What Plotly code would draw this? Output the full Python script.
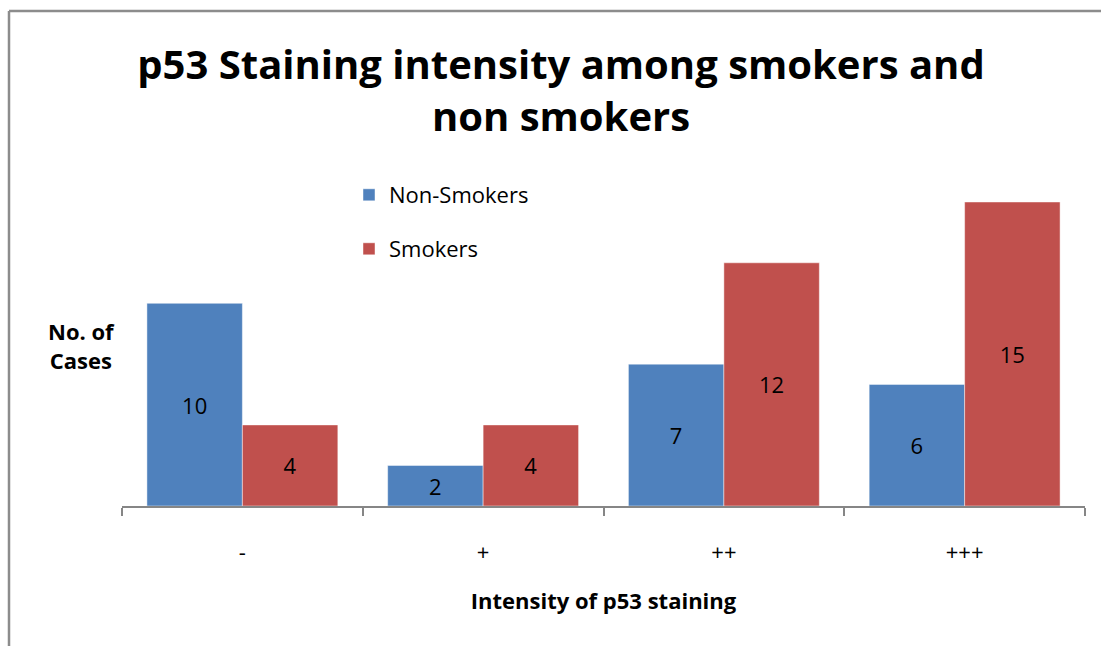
import plotly.graph_objects as go

# Staining intensity categories and case counts per group
categories = ["-", "+", "++", "+++"]
non_smokers = [10, 2, 7, 6]
smokers = [4, 4, 12, 15]

BLUE = "#4F81BD"
RED = "#C0504D"
FONT = "Open Sans"

W, H = 1101, 646
L, R, T, B = 122, 16, 202, 140


def px_x(x):
    return (x - L) / (W - L - R)


def px_y(y):
    return (H - B - y) / (H - T - B)


fig = go.Figure()
fig.add_trace(go.Bar(
    x=categories, y=non_smokers, name="Non-Smokers",
    marker=dict(color=BLUE, line=dict(color="rgba(255,255,255,0.45)", width=1)),
    text=non_smokers, textposition="inside", insidetextanchor="middle",
    textfont=dict(family=FONT, size=22, color="black"),
    legend="legend",
))
fig.add_trace(go.Bar(
    x=categories, y=smokers, name="Smokers",
    marker=dict(color=RED, line=dict(color="rgba(255,255,255,0.45)", width=1)),
    text=smokers, textposition="inside", insidetextanchor="middle",
    textfont=dict(family=FONT, size=22, color="black"),
    legend="legend2",
))

fig.update_layout(
    width=W, height=H,
    margin=dict(l=L, r=R, t=T, b=B),
    paper_bgcolor="white", plot_bgcolor="white",
    barmode="group", bargap=0.207, bargroupgap=0,
    font=dict(family=FONT, color="black"),
    title=dict(
        text="<b>p53 Staining intensity among smokers and<br>non smokers</b>",
        x=561 / W, xanchor="center", xref="container",
        y=1 - 79 / H, yanchor="middle",
        font=dict(family=FONT, size=40, color="black"),
    ),
    legend=dict(
        x=px_x(349), y=px_y(195), xanchor="left", yanchor="middle",
        font=dict(family=FONT, size=22, color="black"),
        bgcolor="rgba(0,0,0,0)",
    ),
    legend2=dict(
        x=px_x(349), y=px_y(249), xanchor="left", yanchor="middle",
        font=dict(family=FONT, size=22, color="black"),
        bgcolor="rgba(0,0,0,0)",
    ),
    showlegend=True,
)

fig.update_xaxes(
    type="category", range=[-0.5, 3.5],
    showline=True, linecolor="#868686", linewidth=2,
    ticks="outside", tickson="boundaries", ticklen=8, tickcolor="#868686", tickwidth=2,
    tickfont=dict(family=FONT, size=22, color="black"),
    ticklabelstandoff=26,
    showgrid=False, zeroline=False,
    title=dict(text="<b>Intensity of p53 staining</b>", font=dict(family=FONT, size=22), standoff=28),
)
fig.update_yaxes(
    range=[0, 15], visible=False, showgrid=False, zeroline=False,
)

# Vertical axis label, set horizontally to the left of the bars
fig.add_annotation(
    text="<b>No. of<br>Cases</b>", xref="paper", yref="paper",
    x=px_x(81), y=px_y(345), xanchor="center", yanchor="middle",
    showarrow=False, font=dict(family=FONT, size=22, color="black"),
)

# Chart area frame (top and left edges visible)
fig.add_shape(type="line", xref="paper", yref="paper",
              x0=px_x(9), x1=px_x(1120), y0=px_y(11), y1=px_y(11),
              line=dict(color="#8c8c8c", width=2.5))
fig.add_shape(type="line", xref="paper", yref="paper",
              x0=px_x(9), x1=px_x(9), y0=px_y(11), y1=px_y(660),
              line=dict(color="#8c8c8c", width=2.5))

fig.write_html("out.html", config={"displayModeBar": False})
